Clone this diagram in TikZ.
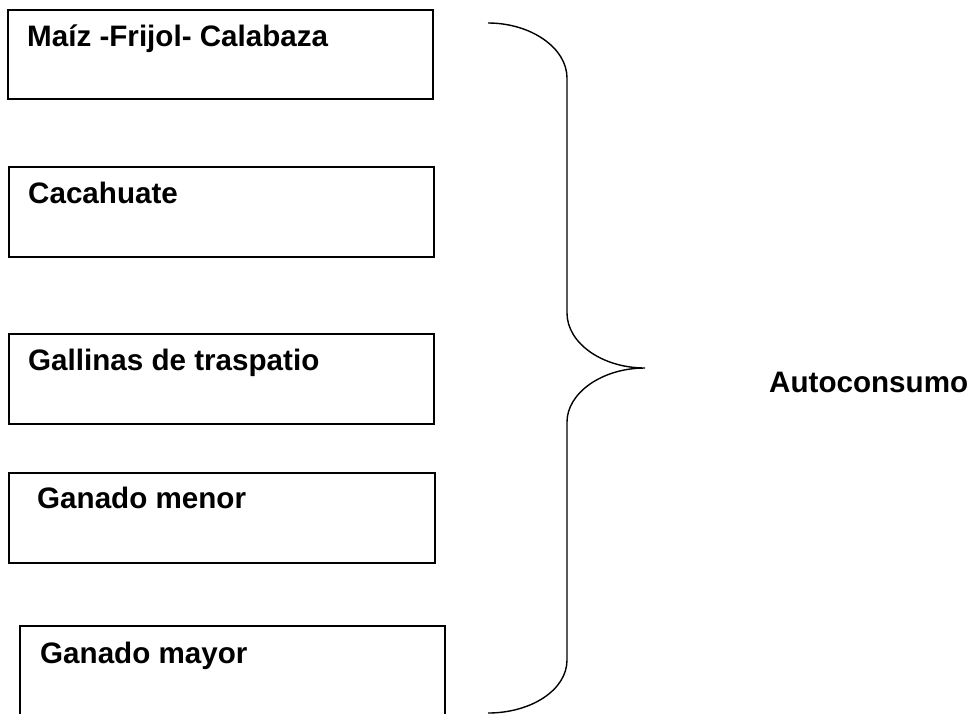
\documentclass[tikz,border=0pt]{standalone}
\usepackage{fontspec}
\setmainfont{Liberation Sans}
\usepackage{tikz}

\begin{document}
\begin{tikzpicture}[x=1pt, y=-1pt,
  caja/.style={draw, line width=1.5pt, minimum width=425pt, minimum height=90pt, anchor=north west, inner sep=0pt},
  etiqueta/.style={anchor=base west, inner sep=0pt, font=\fontsize{29.6}{35}\selectfont\bfseries},
  llave/.style={line width=1.4pt}]

\useasboundingbox (0,0) rectangle (971,713);

\node[caja, minimum height=89pt] (maiz) at (7,9) {};
\node[caja] (cacahuate) at (8,166) {};
\node[caja] (gallinas) at (8,333) {};
\node[caja, minimum width=426pt] (menor) at (8,472) {};
\node[caja, minimum height=95pt] (mayor) at (19,625) {};

\node[etiqueta] (t-maiz) at ([xshift=20pt, yshift=-37pt]maiz.north west) {Maíz -Frijol- Calabaza};
\node[etiqueta] (t-cacahuate) at ([xshift=20pt, yshift=-37pt]cacahuate.north west) {Cacahuate};
\node[etiqueta] (t-gallinas) at ([xshift=20pt, yshift=-37pt]gallinas.north west) {Gallinas de traspatio};
\node[etiqueta] (t-menor) at ([xshift=29pt, yshift=-36pt]menor.north west) {Ganado menor};
\node[etiqueta] (t-mayor) at ([xshift=21pt, yshift=-38pt]mayor.north west) {Ganado mayor};

\coordinate (llave-a) at (488,23);
\coordinate (llave-b) at (567,78);
\coordinate (llave-c) at (567,313);
\coordinate (llave-pico) at (645,368);
\coordinate (llave-d) at (567,422);
\coordinate (llave-e) at (567,660);
\coordinate (llave-f) at (488,713);

\draw[llave] (llave-a) .. controls (531,23) and (567,48) .. (llave-b)
  -- (llave-c) .. controls (567,343) and (602,368) .. (llave-pico)
  .. controls (602,368) and (567,393) .. (llave-d)
  -- (llave-e) .. controls (567,690) and (531,713) .. (llave-f);

\node[etiqueta] (autoconsumo) at (769,392) {Autoconsumo};

\end{tikzpicture}
\end{document}
